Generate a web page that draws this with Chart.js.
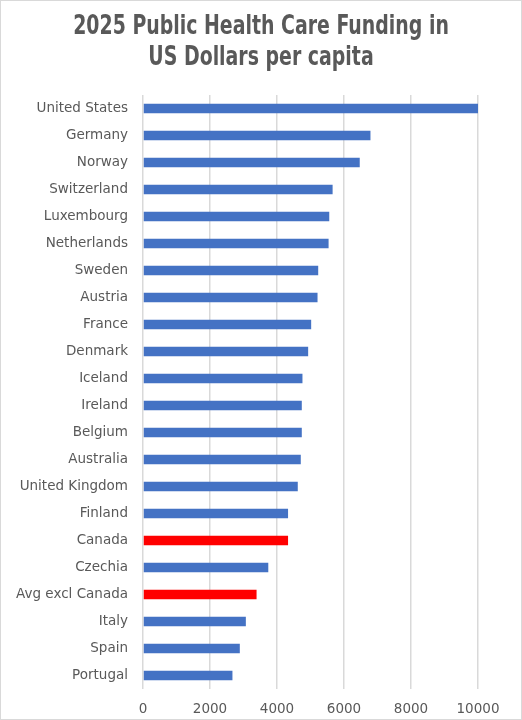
<!DOCTYPE html>
<html>
<head>
<meta charset="utf-8">
<script src="https://cdn.jsdelivr.net/npm/chart.js@4"></script>
<style>
  html, body { margin: 0; padding: 0; background: #fff; }
  #wrap { width: 522px; height: 720px; }
</style>
</head>
<body>
<div id="wrap"><canvas id="myChart"></canvas></div>
<script>
const countries = [
    'United States', 'Germany', 'Norway', 'Switzerland', 'Luxembourg', 'Netherlands',
    'Sweden', 'Austria', 'France', 'Denmark', 'Iceland', 'Ireland', 'Belgium',
    'Australia', 'United Kingdom', 'Finland', 'Canada', 'Czechia', 'Avg excl Canada',
    'Italy', 'Spain', 'Portugal'
];

// USD per capita
const funding = [
    10000, 6790, 6470, 5660, 5560, 5540,
    5230, 5210, 5020, 4930, 4760, 4740, 4740,
    4710, 4620, 4330, 4330, 3740, 3390,
    3070, 2890, 2670
];

const highlighted = ['Canada', 'Avg excl Canada'];

const xTicks = [0, 2000, 4000, 6000, 8000, 10000];

const titleLines = ['2025 Public Health Care Funding in', 'US Dollars per capita'];
const titleFamily = "'DejaVu Sans Condensed', 'Liberation Sans Narrow', 'Liberation Sans', sans-serif";

// the reference title is a tall narrow face: fit the width (~376px) and stretch it up a bit
const titleDraw = {
    id: 'titleDraw',
    afterDraw(chart) {
        const c = chart.ctx;
        c.save();
        c.font = 'bold 26px ' + titleFamily;
        const size = Math.min(28, 26 * 376 / c.measureText(titleLines[0]).width);
        c.font = 'bold ' + size + 'px ' + titleFamily;
        const stretch = 20 / (0.73 * size);
        c.fillStyle = '#595959';
        c.textAlign = 'center';
        c.textBaseline = 'alphabetic';
        [34, 65].forEach((y, i) => {
            c.save();
            c.translate(chart.width / 2, y);
            c.scale(1, stretch);
            c.fillText(titleLines[i], 0, 0);
            c.restore();
        });
        c.restore();
    }
};

const frame = {
    id: 'frame',
    beforeDraw(chart) {
        const c = chart.ctx;
        c.save();
        c.fillStyle = '#ffffff';
        c.fillRect(0, 0, chart.width, chart.height);
        c.strokeStyle = '#d9d9d9';
        c.lineWidth = 1;
        c.strokeRect(0.5, 0.5, chart.width - 1, chart.height - 1);
        c.restore();
    }
};

const ctx = document.getElementById('myChart').getContext('2d');

const myChart = new Chart(ctx, {
    type: 'bar',
    plugins: [frame, titleDraw],
    data: {
        labels: countries,
        datasets: [{
            data: funding,
            backgroundColor: countries.map(c => highlighted.includes(c) ? '#ff0000' : '#4472c4'),
            barPercentage: 0.35,
            categoryPercentage: 1,
        }]
    },
    options: {
        indexAxis: 'y',
        responsive: true,
        maintainAspectRatio: false,
        animation: false,
        layout: {
            padding: { left: 0, right: 44, top: 95, bottom: 0 }
        },
        plugins: {
            legend: { display: false },
            tooltip: { enabled: false },
            title: { display: false },
        },
        scales: {
            x: {
                min: 0,
                max: 10000,
                afterBuildTicks: scale => {
                    scale.ticks = xTicks.map(v => ({ value: v }));
                },
                afterFit: scale => { scale.height = 31; },
                grid: {
                    color: '#d9d9d9',
                    lineWidth: 1.5,
                    drawTicks: false,
                },
                border: { display: false },
                ticks: {
                    color: '#595959',
                    padding: 12,
                    callback: v => String(v),
                    font: { family: "'DejaVu Sans', sans-serif", size: 13.5 },
                },
            },
            y: {
                grid: { display: false, drawTicks: false },
                border: { display: false },
                afterFit: scale => { scale.width = 143; },
                ticks: {
                    color: '#595959',
                    padding: 15,
                    autoSkip: false,
                    font: { family: "'DejaVu Sans', sans-serif", size: 13.5 },
                },
            }
        }
    }
});
</script>
</body>
</html>
